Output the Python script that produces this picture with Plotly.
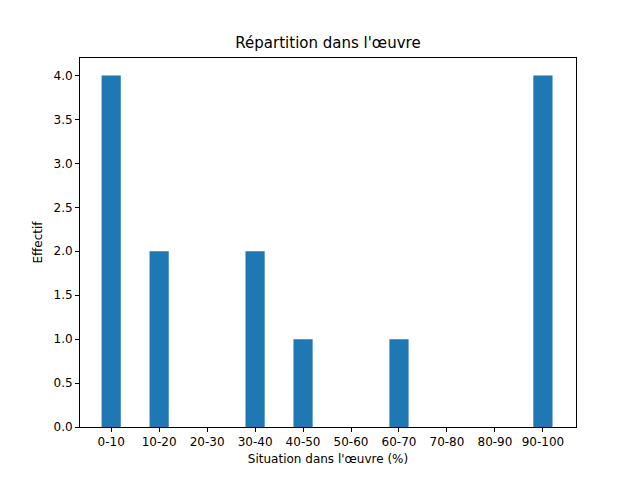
import plotly.graph_objects as go

categories = ["0-10", "10-20", "20-30", "30-40", "40-50", "50-60", "60-70", "70-80", "80-90", "90-100"]
effectifs = [4, 2, 0, 2, 1, 0, 1, 0, 0, 4]

positions = list(range(len(categories)))

fig = go.Figure()
fig.add_trace(go.Bar(x=positions, y=effectifs, width=0.4, marker_color="#1f77b4", marker_line_width=0))

axis_style = dict(showline=True, linecolor="black", linewidth=1, mirror=True, ticks="outside",
                  ticklen=4, tickcolor="black", showgrid=False, zeroline=False,
                  tickfont=dict(size=12, color="black"))

# the page adds an 8px offset, so margins are shifted to compensate
fig.update_layout(
    width=640, height=480,
    margin=dict(l=72, r=72, t=50, b=61),
    plot_bgcolor="white", paper_bgcolor="white",
    font=dict(family="DejaVu Sans", color="black"),
    title=dict(text="Répartition dans l'œuvre", x=0.5, xanchor="center", y=0.927, yanchor="middle",
               font=dict(size=15)),
    xaxis=dict(tickmode="array", tickvals=positions, ticktext=categories, range=[-0.65, 9.69],
               title=dict(text="Situation dans l'œuvre (%)", font=dict(size=12), standoff=6), **axis_style),
    yaxis=dict(range=[0, 4.2], tickmode="array", tickvals=[i * 0.5 for i in range(9)],
               tickformat=".1f",
               title=dict(text="Effectif", font=dict(size=12), standoff=8), **axis_style),
    showlegend=False,
)

fig.write_html("out.html")
